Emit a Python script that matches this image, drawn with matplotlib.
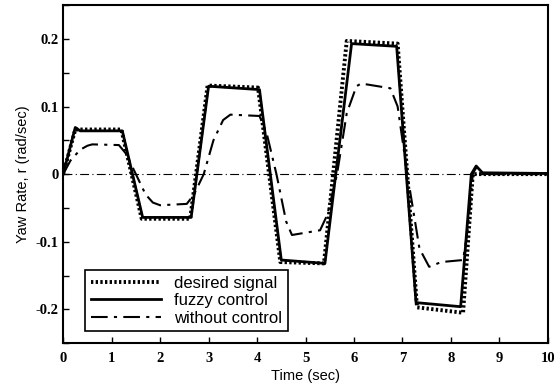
import matplotlib
matplotlib.use("Agg")
import matplotlib.pyplot as plt
import numpy as np

# desired signal (dotted)
t_des = [0, 0.25, 1.2, 1.62, 2.62, 2.98, 4.02, 4.48, 5.38, 5.85, 6.9, 7.3, 8.25, 8.45, 10]
r_des = [0, 0.066, 0.066, -0.066, -0.066, 0.131, 0.128, -0.13, -0.132, 0.197, 0.193, -0.197, -0.205, 0, 0]

# fuzzy control (solid)
t_fuz = [0, 0.25, 0.35, 1.22, 1.64, 2.64, 3.0, 4.05, 4.5, 5.4, 5.95, 6.88, 7.28, 8.2, 8.42, 8.52, 8.65, 10]
r_fuz = [0, 0.069, 0.064, 0.064, -0.064, -0.064, 0.130, 0.125, -0.127, -0.132, 0.193, 0.189, -0.19, -0.196, 0.0, 0.012, 0.002, 0.001]

# without control (dash-dot)
t_wo = [0, 0.15, 0.35, 0.5, 0.6, 1.15, 1.3, 1.5, 1.7, 1.85, 2.0, 2.55, 2.7, 2.9, 3.1, 3.3, 3.45,
        4.05, 4.2, 4.4, 4.6, 4.72, 5.3, 5.45, 5.65, 5.85, 6.05, 6.15, 6.75, 6.9, 7.1, 7.35, 7.55,
        7.8, 8.25, 8.35, 8.45, 8.52, 8.6, 10]
r_wo = [0, 0.02, 0.036, 0.042, 0.044, 0.043, 0.03, 0.0, -0.03, -0.042, -0.046, -0.044, -0.03, 0.0, 0.05, 0.08, 0.088,
        0.086, 0.06, 0.0, -0.07, -0.09, -0.083, -0.06, 0.0, 0.09, 0.13, 0.134, 0.127, 0.1, 0.0, -0.11, -0.137,
        -0.13, -0.127, -0.08, 0.0, 0.01, 0.0, 0.0]

x_ticks = list(range(0, 11))
y_ticks = [-0.2, -0.1, 0, 0.1, 0.2]
y_tick_labels = ["-0.2", "-0.1", "0", "0.1", "0.2"]

fig = plt.figure(figsize=(5.54, 3.90), dpi=100)
ax = fig.add_axes([0.114, 0.12, 0.875, 0.867])

ax.axhline(0, color="black", lw=0.8, ls=(0, (8, 3, 1, 3)))
ax.plot(t_des, r_des, color="black", lw=2.8, ls=(0, (0.6, 0.6)), label="desired signal")
ax.plot(t_fuz, r_fuz, color="black", lw=2.0, ls="-", label="fuzzy control")
ax.plot(t_wo, r_wo, color="black", lw=1.5, ls=(0, (8, 3, 1.5, 3)), label="without control")

ax.set_xlim(0, 10)
ax.set_ylim(-0.25, 0.25)
ax.set_xticks(x_ticks)
ax.set_yticks(np.arange(-0.25, 0.2501, 0.05), minor=True)
ax.set_yticks(y_ticks)
ax.set_yticklabels(y_tick_labels)
ax.tick_params(which="both", direction="in", length=4, width=1)
ax.tick_params(axis="x", pad=6)
for lab in ax.get_xticklabels() + ax.get_yticklabels():
    lab.set_fontfamily("Liberation Serif")
    lab.set_fontweight("bold")
    lab.set_fontsize(10.5)
for s in ax.spines.values():
    s.set_linewidth(1.5)

ax.set_xlabel("Time (sec)", fontsize=10.5, family="Liberation Sans", labelpad=3)
ax.set_ylabel("Yaw Rate, r (rad/sec)", fontsize=10.5, family="Liberation Sans", labelpad=4)

leg = ax.legend(loc="lower left", bbox_to_anchor=(0.028, 0.01), fancybox=False, framealpha=1,
                edgecolor="black", prop={"family": "Liberation Sans", "size": 12},
                handlelength=4.2, borderpad=0.35, labelspacing=0.15)
leg.get_frame().set_linewidth(1.2)

fig.savefig("out.png", dpi=100)
